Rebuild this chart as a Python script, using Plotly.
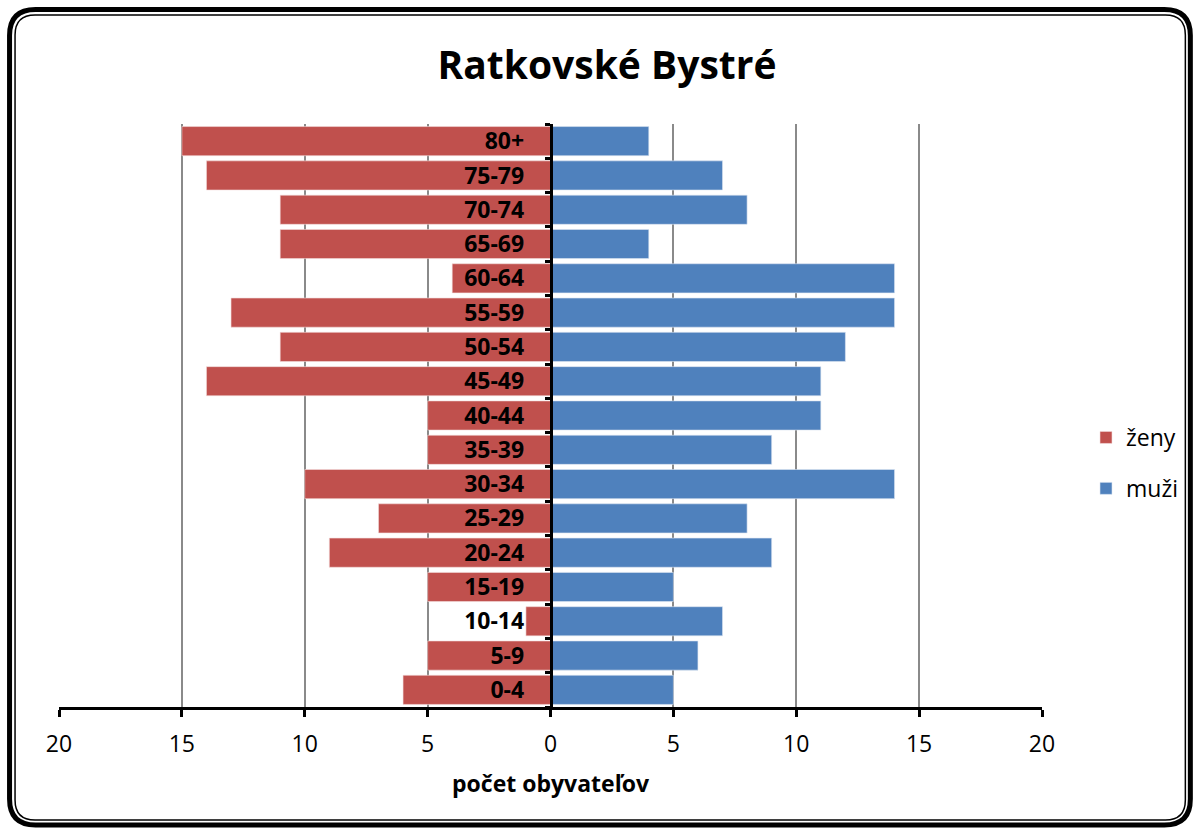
import plotly.graph_objects as go

W, H = 1194, 829
ML, MR, MT, MB = 59, 151, 124, 122

age_groups = ["0-4", "5-9", "10-14", "15-19", "20-24", "25-29", "30-34", "35-39",
              "40-44", "45-49", "50-54", "55-59", "60-64", "65-69", "70-74", "75-79", "80+"]
zeny = [6, 5, 1, 5, 9, 7, 10, 5, 5, 14, 11, 13, 4, 11, 11, 14, 15]
muzi = [5, 6, 7, 5, 9, 8, 14, 9, 11, 11, 12, 14, 14, 4, 8, 7, 4]
tick_vals = [-20, -15, -10, -5, 0, 5, 10, 15, 20]
tick_text = ["20", "15", "10", "5", "0", "5", "10", "15", "20"]

RED = "#C0504D"
BLUE = "#4F81BD"
FONT = "Open Sans"
FS = 23

pw, ph = W - ML - MR, H - MT - MB


def px(x):
    return (x - ML) / pw


def py(y):
    return (H - MB - y) / ph


def rounded_rect(x0, y0, x1, y1, r):
    X0, X1 = px(x0), px(x1)
    Y0, Y1 = py(y0), py(y1)
    rx, ry = r / pw, r / ph
    return (f"M {X0 + rx},{Y0} L {X1 - rx},{Y0} Q {X1},{Y0} {X1},{Y0 - ry} "
            f"L {X1},{Y1 + ry} Q {X1},{Y1} {X1 - rx},{Y1} "
            f"L {X0 + rx},{Y1} Q {X0},{Y1} {X0},{Y1 + ry} "
            f"L {X0},{Y0 - ry} Q {X0},{Y0} {X0 + rx},{Y0} Z")


fig = go.Figure()
fig.add_trace(go.Bar(
    y=age_groups, x=[-v for v in zeny], orientation="h", name="ženy",
    marker=dict(color=RED, line=dict(color="#f4dede", width=0.6)),
    legendgroup="z", customdata=zeny, hovertemplate="%{y}: %{customdata}<extra>ženy</extra>"))
fig.add_trace(go.Bar(
    y=age_groups, x=muzi, orientation="h", name="muži",
    marker=dict(color=BLUE, line=dict(color="#dde6f2", width=0.6)),
    legendgroup="m", hovertemplate="%{y}: %{x}<extra>muži</extra>"))

fig.update_layout(
    width=W, height=H,
    margin=dict(l=ML, r=MR, t=MT, b=MB),
    paper_bgcolor="white", plot_bgcolor="white",
    barmode="relative", bargap=0.15,
    font=dict(family=FONT, size=FS, color="black"),
    title=dict(text="<b>Ratkovské Bystré</b>", x=607 / W, xanchor="center",
               y=1 - 65 / H, yanchor="middle",
               font=dict(family=FONT, size=39, color="black")),
    legend=dict(x=px(1086), xanchor="left", y=py(463), yanchor="middle",
                font=dict(family=FONT, size=FS), tracegroupgap=18,
                itemwidth=30, bgcolor="rgba(0,0,0,0)"),
    showlegend=True,
)

fig.update_xaxes(
    range=[-20, 20], tickvals=tick_vals, ticktext=tick_text,
    showgrid=True, gridcolor="#8a8a8a", gridwidth=1.5,
    zeroline=False, showline=True, linecolor="black", linewidth=2.5,
    ticks="outside", ticklen=7, tickwidth=2.5, tickcolor="black",
    ticklabelstandoff=8,
    tickfont=dict(family=FONT, size=FS),
    title=dict(text="<b>počet obyvateľov</b>", font=dict(family=FONT, size=FS), standoff=18),
)
fig.update_yaxes(
    type="category", range=[-0.5, 16.5],
    anchor="free", position=0.5,
    showline=True, linecolor="black", linewidth=2.5,
    ticks="outside", ticklen=5, tickwidth=2.5, tickcolor="black",
    tickson="boundaries", showgrid=False, zeroline=False,
    ticklabelstandoff=21,
    tickfont=dict(family=FONT, size=FS, color="black"),
    tickprefix="<b>", ticksuffix="</b>",
)

fig.add_shape(type="path", xref="paper", yref="paper",
              path=rounded_rect(9.5, 9.5, 1191.5, 825, 26),
              line=dict(color="black", width=5), layer="above")
fig.add_shape(type="path", xref="paper", yref="paper",
              path=rounded_rect(15, 15, 1186.5, 820, 20),
              line=dict(color="black", width=1.5), layer="above")

fig.write_html("out.html", config={"displayModeBar": False},
               post_script="document.body.style.margin='0';")
